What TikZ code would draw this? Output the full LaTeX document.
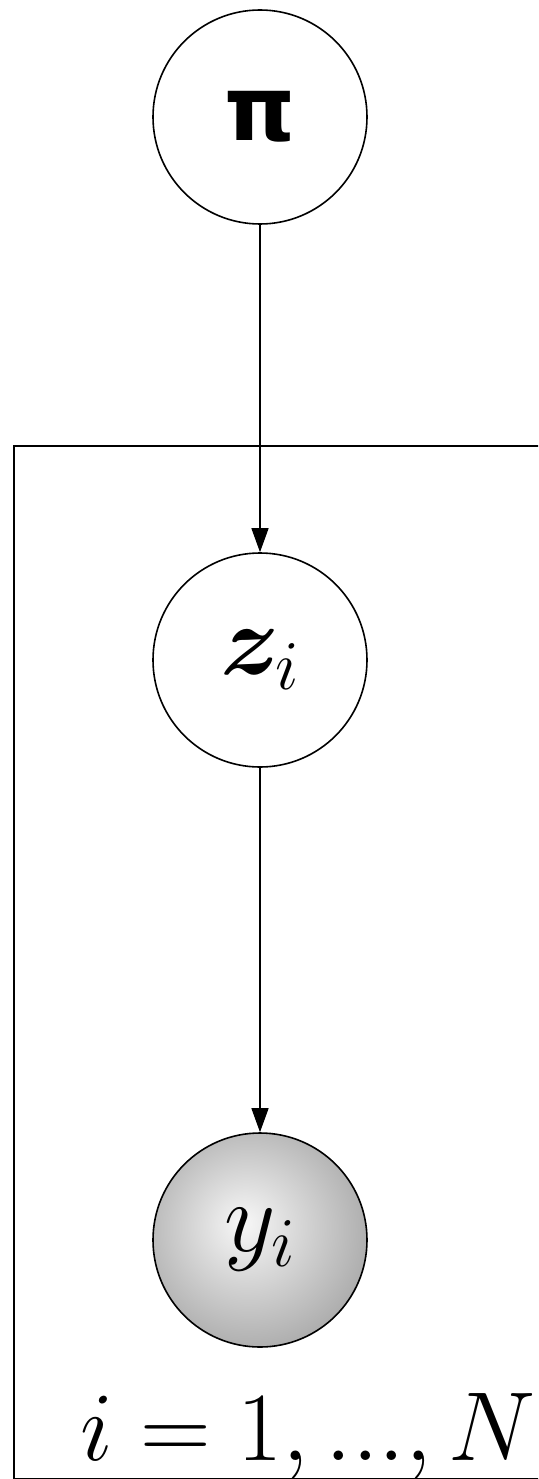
\RequirePackage{fix-cm}
\documentclass[tikz,border=0pt]{standalone}
\usepackage{bm}
\usepackage{fontspec}
\newfontfamily\djv{DejaVu Sans}
\usetikzlibrary{arrows.meta}
\pgfdeclareradialshading{ballshade}{\pgfpoint{-4bp}{4bp}}{color(0bp)=(black!3); color(50bp)=(black!55); color(62bp)=(black!55)}
\tikzset{
  var/.style={circle, draw, line width=1.6pt, minimum size=214pt, inner sep=0pt, font=\fontsize{100}{120}\selectfont},
  obs/.style={var, shading=ballshade},
  edge/.style={line width=1.4pt, -{Triangle[length=24pt,width=17pt]}},
  plate/.style={draw, line width=1.5pt, rectangle, inner sep=0pt, minimum width=620pt, minimum height=1033pt},
  platelabel/.style={inner sep=0pt, font=\fontsize{98}{118}\selectfont}
}
\begin{document}
\begin{tikzpicture}[x=1pt,y=-1pt]
\useasboundingbox (0,0) rectangle (538,1479);
\clip (0,0) rectangle (538,1479);
\node[plate, anchor=north west] (plate) at (13,445) {};
\node[var] (pi) at (260,117) {\djv\bfseries\fontsize{90}{100}\selectfont π};
\node[var] (z) at (260,660) {$\bm{z}_i$};
\node[obs] (y) at (260,1240) {$y_i$};
\node[platelabel, anchor=base west] (lab) at (80,1460) {$i = 1, ..., N$};
\draw[edge] (pi) -- (z);
\draw[edge] (z) -- (y);
\end{tikzpicture}
\end{document}
